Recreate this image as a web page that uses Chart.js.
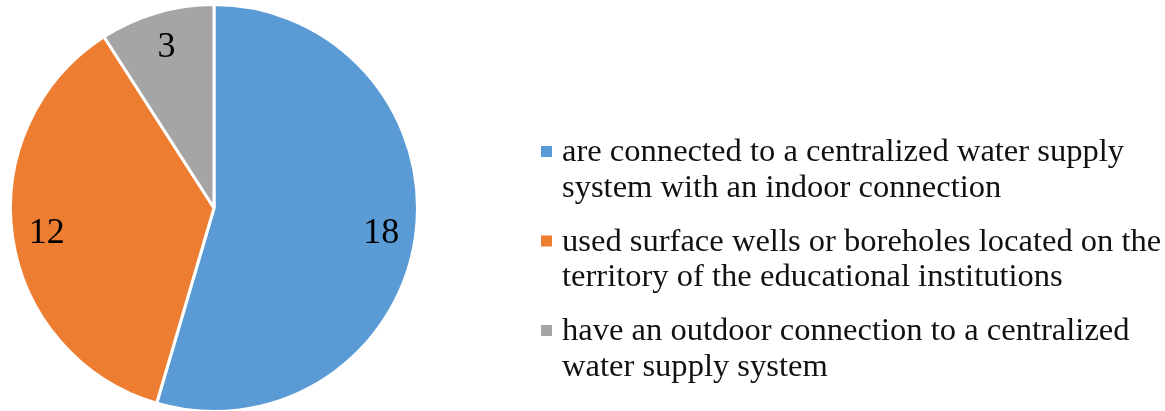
<!DOCTYPE html>
<html>
<head>
<meta charset="utf-8">
<script src="https://cdn.jsdelivr.net/npm/chart.js@4"></script>
<style>
  html, body { margin: 0; padding: 0; background: #fff; overflow: hidden; }
  body { width: 1165px; height: 411px; position: relative; }
  #chartBox { position: absolute; left: 0; top: 0; width: 1165px; height: 416px; }
</style>
</head>
<body>
<div id="chartBox"><canvas id="pie"></canvas></div>
<script>
// Chart data
const categories = [
  "are connected to a centralized water supply system with an indoor connection",
  "used surface wells or boreholes located on the territory of the educational institutions",
  "have an outdoor connection to a centralized water supply system"
];
const counts = [18, 12, 3];
const sliceColors = ["#5B9BD5", "#ED7D31", "#A5A5A5"];

const SERIF = '"Liberation Serif", "Times New Roman", serif';

// Draw the value inside each slice
const valueLabels = {
  id: 'valueLabels',
  afterDatasetsDraw(chart) {
    const ctx = chart.ctx;
    const meta = chart.getDatasetMeta(0);
    ctx.save();
    ctx.font = '36px ' + SERIF;
    ctx.fillStyle = '#000';
    ctx.textAlign = 'center';
    ctx.textBaseline = 'middle';
    meta.data.forEach((arc, i) => {
      const p = arc.getProps(['x', 'y', 'startAngle', 'endAngle', 'outerRadius'], true);
      const mid = (p.startAngle + p.endAngle) / 2;
      const r = p.outerRadius * 0.83;
      ctx.fillText(String(counts[i]), p.x + Math.cos(mid) * r, p.y + Math.sin(mid) * r + 2);
    });
    ctx.restore();
  }
};

// Legend on the right with wrapped labels
function wrap(ctx, text, maxW) {
  const words = text.split(' ');
  const lines = [];
  let cur = '';
  words.forEach(w => {
    const t = cur ? cur + ' ' + w : w;
    if (ctx.measureText(t).width > maxW && cur) {
      lines.push(cur);
      cur = w;
    } else {
      cur = t;
    }
  });
  if (cur) lines.push(cur);
  return lines;
}

const sideLegend = {
  id: 'sideLegend',
  afterDraw(chart) {
    const ctx = chart.ctx;
    const boxX = 541, textX = 562, maxW = 603;
    const sx = 1.05; // text in the original is a little wide
    const lineH = 35.5, itemGap = 54;
    let y = 161; // baseline of first line
    ctx.save();
    ctx.font = '31px ' + SERIF;
    ctx.textBaseline = 'alphabetic';
    ctx.textAlign = 'left';
    categories.forEach((c, i) => {
      ctx.fillStyle = sliceColors[i];
      ctx.fillRect(boxX, y - 15, 11, 11);
      ctx.fillStyle = '#111';
      const lines = wrap(ctx, c, maxW / sx);
      lines.forEach((ln, k) => {
        ctx.save();
        ctx.translate(textX, y + k * lineH);
        ctx.scale(sx, 1);
        ctx.fillText(ln, 0, 0);
        ctx.restore();
      });
      y += (lines.length - 1) * lineH + itemGap;
    });
    ctx.restore();
  }
};

new Chart(document.getElementById('pie'), {
  type: 'pie',
  data: {
    labels: categories,
    datasets: [{
      data: counts,
      backgroundColor: sliceColors,
      borderColor: '#fff',
      borderWidth: 3
    }]
  },
  options: {
    responsive: true,
    maintainAspectRatio: false,
    animation: false,
    layout: { padding: { left: 9, top: 3, right: 746, bottom: 3 } },
    plugins: {
      legend: { display: false },
      tooltip: { enabled: false }
    }
  },
  plugins: [valueLabels, sideLegend]
});
</script>
</body>
</html>
